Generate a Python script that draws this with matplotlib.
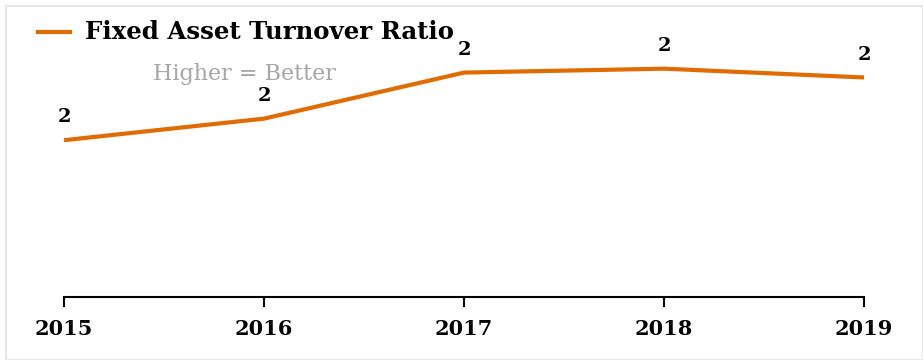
import matplotlib
matplotlib.use("Agg")
import matplotlib.pyplot as plt
from matplotlib.patches import Rectangle

# chart data
years = [2015, 2016, 2017, 2018, 2019]
ratio = [1.60, 1.82, 2.29, 2.33, 2.24]
labels = ["2", "2", "2", "2", "2"]

orange = "#E06C00"
serif = "DejaVu Serif"

fig = plt.figure(figsize=(9.23, 3.6), dpi=100)
ax = fig.add_axes([64 / 923, 63 / 360, 800 / 923, 294 / 360])

ax.plot(years, ratio, color=orange, lw=3, clip_on=False, solid_capstyle="butt")

for x, y, t in zip(years, ratio, labels):
    ax.annotate(t, (x, y), xytext=(0, 16.5), textcoords="offset points",
                ha="center", va="center", fontsize=14, fontweight="bold",
                family=serif, color="black")

ax.set_xlim(2015, 2019)
ax.set_ylim(0, 3)
ax.set_xticks(years)
ax.set_xticklabels([str(y) for y in years], fontsize=15, fontweight="bold", family=serif)
ax.tick_params(axis="x", length=7, width=1.5, pad=9, color="black")
ax.set_yticks([])
for s in ["left", "right", "top"]:
    ax.spines[s].set_visible(False)
ax.spines["bottom"].set_linewidth(1.5)

# legend-like header
fig.add_artist(plt.Line2D([38 / 923, 70 / 923], [1 - 32 / 360, 1 - 32 / 360],
                          color=orange, lw=3, transform=fig.transFigure))
fig.text(85 / 923, 1 - 32 / 360, "Fixed Asset Turnover Ratio", fontsize=17.6,
         fontweight="bold", family=serif, va="center", ha="left")
fig.text(244 / 923, 1 - 74 / 360, "Higher = Better", fontsize=16,
         family=serif, color="#A6A6A6", va="center", ha="center")

# thin frame
fig.add_artist(Rectangle((6 / 923, 0), 1 - 6 / 923, 1 - 6 / 360, transform=fig.transFigure,
                         fill=False, edgecolor="#E6E6E6", lw=1.5))

fig.savefig("out.png", dpi=100)
